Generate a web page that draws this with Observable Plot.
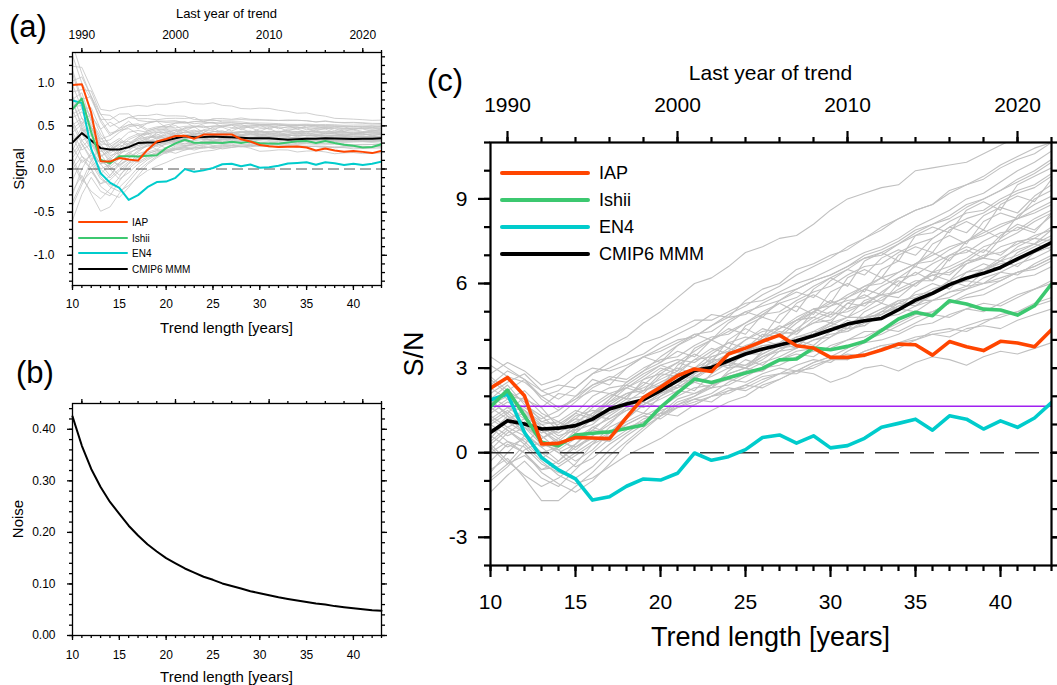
<!DOCTYPE html>
<html><head><meta charset="utf-8">
<script src="https://cdn.jsdelivr.net/npm/d3@7"></script>
<script src="https://cdn.jsdelivr.net/npm/@observablehq/plot@0.6"></script>
<style>
html,body{margin:0;padding:0;background:#fff;}
#wrap{position:relative;width:1057px;height:685px;overflow:hidden;font-family:"Liberation Sans",Arial,Helvetica,sans-serif;}
#wrap svg{position:absolute;left:0;top:0;}
</style></head><body><div id="wrap"></div>
<script>
// ---------------- DATA ----------------
const trendLength = [10,11,12,13,14,15,16,17,18,19,20,21,22,23,24,25,26,27,28,29,30,31,32,33,34,35,36,37,38,39,40,41,42,43];
const yearOffset = 1979; // last year of trend = 1979 + trend length
const yearTickLabels = [1990, 2000, 2010, 2020];

// Panel (b): noise vs trend length
const noise = [0.425,0.368,0.323,0.288,0.259,0.236,0.213,0.194,0.177,0.163,0.150,0.140,0.130,0.122,0.114,0.108,0.101,0.096,0.091,0.086,0.082,0.078,0.074,0.071,0.068,0.065,0.062,0.060,0.057,0.055,0.053,0.051,0.049,0.048];

// Panel (c): S/N of observations and multi-model mean (signal = S/N x noise in panel a)
const seriesNames  = ["IAP", "Ishii", "EN4", "CMIP6 MMM"];
const seriesColors = ["#ff4500", "#3cc870", "#00cccc", "#000000"];
const snIAP   = [2.29,2.67,2.02,0.31,0.33,0.54,0.52,0.50,1.25,1.96,2.32,2.73,2.97,2.88,3.50,3.71,3.95,4.17,3.79,3.71,3.38,3.38,3.46,3.64,3.85,3.83,3.46,3.94,3.76,3.62,3.95,3.89,3.76,4.36];
const snIshii = [1.63,2.22,1.31,0.37,0.25,0.63,0.69,0.74,0.86,0.98,1.61,2.12,2.61,2.49,2.66,2.83,2.99,3.29,3.32,3.71,3.65,3.77,3.94,4.33,4.74,4.98,4.86,5.39,5.27,5.09,5.06,4.88,5.21,5.98];
const snEN4   = [1.87,2.08,0.72,-0.17,-0.61,-0.93,-1.68,-1.56,-1.19,-0.93,-0.97,-0.73,-0.01,-0.27,-0.14,0.11,0.54,0.63,0.34,0.60,0.17,0.25,0.51,0.90,1.04,1.19,0.80,1.31,1.19,0.84,1.13,0.90,1.23,1.78];
const snMMM   = [0.72,1.13,1.02,0.84,0.87,0.96,1.19,1.55,1.73,1.88,2.20,2.55,2.92,3.02,3.26,3.50,3.68,3.82,3.97,4.15,4.35,4.56,4.68,4.76,5.07,5.41,5.65,5.96,6.19,6.36,6.57,6.87,7.16,7.45];
const snThreshold = 1.645;

// Individual CMIP6 models (S/N)
const cmip6ModelsSN = [
 [2.8,3.2,2.9,2.4,2.6,3.0,3.4,3.8,4.1,4.6,5.0,5.5,6.0,6.2,6.6,7.1,7.3,7.6,7.7,8.1,8.6,9.0,9.2,9.4,9.5,10.0,10.1,10.2,10.3,10.6,10.9,11.2,11.5,11.8],
 [3.4,3.0,2.6,2.2,2.4,2.3,2.8,3.0,3.3,3.5,3.9,4.2,4.5,4.9,4.8,5.4,5.8,6.0,6.5,6.7,7.0,7.2,7.6,8.0,8.3,8.6,8.8,9.3,9.5,9.8,10.2,10.5,10.8,11.0],
 [1.0,0.6,0.9,0.3,0.1,0.5,0.8,0.7,1.1,1.4,1.3,1.7,1.9,1.8,2.2,2.4,2.3,2.6,2.9,2.8,2.5,2.7,3.0,3.1,2.9,3.2,3.4,3.3,3.1,3.4,3.6,3.5,3.7,3.9],
 [-1.4,-0.8,-0.3,-0.9,-1.2,-0.6,0.0,0.5,1.0,1.3,1.6,2.0,2.3,2.4,2.8,3.0,2.9,3.3,3.5,3.4,3.8,4.0,4.1,4.4,4.3,4.6,4.9,4.8,5.1,5.3,5.2,5.5,5.8,6.0],
 [0.5,1.2,1.5,0.8,0.4,0.2,0.6,1.1,1.5,1.8,2.3,2.1,2.8,3.2,3.0,3.6,4.0,3.8,4.4,4.8,4.6,5.3,5.6,5.3,6.0,6.4,6.1,6.9,7.2,6.9,7.6,8.0,7.8,8.5],
 [1.2,1.6,1.5,1.1,1.0,1.4,2.0,2.3,2.4,2.8,3.1,3.3,3.2,3.6,3.9,4.1,4.0,4.4,4.7,4.8,5.2,5.4,5.5,5.9,6.2,6.3,6.7,7.0,7.1,7.5,7.8,7.9,8.3,8.6],
 [1.5,1.9,2.2,1.6,0.9,0.7,1.2,1.6,2.0,2.5,2.3,3.1,3.5,3.2,4.0,4.4,4.1,4.9,5.2,4.9,5.7,6.0,5.7,6.5,6.8,6.6,7.4,7.7,7.4,8.2,8.5,8.3,9.0,9.3],
 [0.0,0.4,0.2,-0.4,-0.7,-0.9,-0.5,0.1,0.6,1.0,1.4,1.9,2.1,2.3,2.7,2.9,3.2,3.4,3.7,4.0,4.1,4.5,4.8,4.9,5.3,5.6,5.7,6.1,6.4,6.5,6.9,7.2,7.4,7.7],
 [1.8,1.4,0.9,0.5,0.8,1.3,1.5,1.4,1.8,2.2,2.4,2.3,2.7,3.0,3.1,3.0,3.4,3.7,3.8,4.2,4.4,4.3,4.7,5.0,5.1,5.0,5.4,5.7,5.8,6.2,6.4,6.3,6.7,7.0],
 [2.6,2.1,1.5,1.0,1.1,0.8,1.0,1.5,1.9,2.0,2.4,2.8,2.6,3.3,3.7,3.5,4.1,4.5,4.3,5.0,5.4,5.1,5.8,6.2,5.9,6.7,7.1,6.8,7.5,7.9,7.6,8.4,8.8,9.1],
 [0.8,1.1,0.7,0.2,0.4,0.9,1.3,1.2,1.6,1.9,2.2,2.5,2.6,3.0,3.2,3.1,3.5,3.8,3.9,4.2,4.5,4.4,4.8,5.1,5.3,5.2,5.6,5.9,6.1,6.0,6.4,6.7,6.9,7.2],
 [-0.6,-0.2,-0.9,-1.7,-1.7,-1.2,-0.7,-0.1,0.4,0.9,1.3,1.6,1.9,2.1,2.5,2.8,2.9,3.3,3.6,3.7,4.1,4.4,4.5,4.9,5.2,5.3,5.7,6.0,6.2,6.5,6.8,7.0,7.3,7.6],
 [3.1,2.7,2.5,2.0,1.6,1.9,2.4,2.6,2.5,2.9,3.2,3.6,3.4,4.0,4.4,4.2,4.9,5.3,5.0,5.8,6.2,5.9,6.8,7.1,6.8,7.7,8.0,7.8,8.6,8.9,8.6,9.5,9.8,10.1],
 [1.3,0.9,1.2,1.0,0.6,0.8,1.3,1.8,2.1,2.3,2.6,2.9,3.3,3.4,3.6,4.0,4.3,4.4,4.8,5.1,5.2,5.6,5.9,6.0,6.4,6.7,6.8,7.2,7.5,7.7,8.0,8.3,8.5,8.8],
 [2.0,1.6,1.2,0.7,0.9,1.2,1.1,1.4,1.7,1.6,1.9,2.2,2.1,2.4,2.6,2.5,2.8,3.0,2.9,3.2,3.4,3.3,3.6,3.8,3.7,4.0,4.2,4.1,4.4,4.5,4.4,4.7,4.9,5.1],
 [0.3,-0.3,-0.8,-1.2,-0.9,-0.4,0.3,0.9,1.2,1.7,2.1,2.3,2.7,3.0,3.1,3.5,3.8,3.9,4.3,4.6,4.7,5.1,5.3,5.4,5.8,6.1,6.1,6.5,6.8,6.9,7.3,7.5,7.6,8.0],
 [1.7,2.2,1.8,1.1,1.3,1.8,2.3,2.6,3.0,3.4,3.7,4.0,4.1,4.5,4.8,4.9,5.3,5.6,5.8,6.1,6.3,6.6,6.9,7.0,7.4,7.7,7.8,8.2,8.5,8.6,9.0,9.3,9.5,9.9],
 [-0.9,-0.4,-0.1,-0.6,-0.3,0.2,0.5,0.4,0.8,1.2,1.4,1.3,1.7,2.0,2.1,2.4,2.7,2.8,3.1,3.3,3.2,3.6,3.9,4.0,4.2,4.5,4.6,4.9,5.1,5.0,5.3,5.6,5.8,6.1],
 [2.4,2.9,2.6,2.0,2.2,2.7,3.0,2.9,3.1,3.4,3.6,3.9,4.2,4.3,4.7,5.0,5.2,5.4,5.8,6.1,6.3,6.6,7.0,7.2,7.5,7.9,8.1,8.4,8.8,9.0,9.3,9.6,9.9,10.3],
 [1.1,1.5,1.0,0.4,0.0,0.3,0.8,1.3,1.7,1.9,2.2,2.6,2.9,3.0,3.3,3.5,3.5,3.8,4.1,4.2,4.5,4.8,4.8,5.1,5.4,5.5,5.8,6.0,6.1,6.5,6.7,6.8,7.1,7.4],
 [0.6,0.2,0.5,0.0,-0.4,0.0,0.4,0.7,1.0,1.3,1.2,1.6,1.8,2.0,2.3,2.2,2.5,2.8,2.9,3.0,3.3,3.5,3.4,3.7,3.9,4.0,4.3,4.4,4.3,4.6,4.9,5.0,5.3,5.5],
 [1.9,1.3,0.7,0.2,0.5,1.0,1.6,2.0,2.3,2.7,3.1,2.9,3.7,4.0,3.7,4.5,4.8,4.6,5.3,5.6,5.3,6.2,6.5,6.2,7.0,7.3,7.1,7.9,8.2,7.9,8.8,9.1,8.9,9.7],
 [0.1,0.7,1.1,0.6,0.1,-0.3,0.1,0.7,1.2,1.7,2.1,2.4,2.8,3.1,3.5,3.8,4.0,4.4,4.7,5.0,5.3,5.5,5.9,6.2,6.4,6.7,7.0,7.3,7.5,7.8,8.1,8.3,8.6,8.9],
 [1.7,2.0,1.9,1.6,2.1,2.0,2.4,2.7,2.6,3.0,3.3,3.4,3.8,4.1,4.2,4.6,4.9,5.0,5.4,5.7,5.9,6.3,6.6,6.7,7.1,7.4,7.6,8.0,8.3,8.5,8.9,9.2,9.4,9.8],
 [-0.3,0.3,0.0,-0.7,-1.1,-1.4,-1.0,-0.4,0.3,0.8,1.3,1.8,2.0,2.4,2.8,3.0,3.3,3.7,3.9,4.2,4.6,4.8,5.1,5.5,5.7,6.0,6.4,6.6,6.9,7.3,7.5,7.8,8.2,8.5],
 [1.4,1.8,1.5,0.9,0.7,1.1,1.4,1.7,2.1,2.2,2.5,2.8,2.9,3.2,3.5,3.6,3.9,4.2,4.3,4.6,4.9,5.0,5.3,5.6,5.7,6.0,6.3,6.4,6.7,7.0,7.1,7.4,7.7,7.9],
 [2.3,1.9,1.6,1.2,1.5,1.9,2.2,2.1,2.3,2.6,2.8,2.7,3.0,3.3,3.3,3.6,3.8,3.8,4.1,4.3,4.3,4.6,4.8,4.9,5.2,5.4,5.4,5.7,5.9,6.0,6.2,6.4,6.5,6.8],
 [0.4,0.9,0.6,0.0,0.2,0.7,1.2,1.6,2.0,2.4,2.9,3.2,3.6,4.0,4.3,4.6,5.0,5.3,5.5,5.9,6.2,6.5,6.9,7.1,7.4,7.8,8.1,8.3,8.7,9.0,9.3,9.7,10.0,10.4],
 [1.6,1.2,1.4,0.8,0.3,0.5,0.9,1.2,1.5,1.7,2.0,2.3,2.5,2.7,3.0,3.1,3.4,3.6,3.7,4.0,4.2,4.3,4.6,4.8,4.9,5.2,5.4,5.5,5.8,6.0,6.1,6.4,6.6,6.9],
 [-1.0,-0.5,0.1,0.4,0.0,-0.5,-0.2,0.3,0.7,1.1,1.5,1.7,2.0,2.3,2.4,2.7,3.0,3.1,3.4,3.6,3.7,4.0,4.3,4.3,4.6,4.9,5.0,5.3,5.5,5.6,5.9,6.2,6.3,6.6],
 [2.1,2.5,2.8,2.2,1.9,2.3,2.8,3.2,3.5,3.9,4.1,4.4,4.7,4.7,5.0,5.3,5.4,5.7,6.0,6.2,6.5,6.8,7.1,7.3,7.6,8.0,8.3,8.6,9.0,9.2,9.6,10.0,10.3,10.7],
 [0.9,0.4,0.0,-0.6,-0.5,-0.1,0.3,0.6,0.9,1.1,1.4,1.6,1.7,2.0,2.2,2.3,2.6,2.8,2.8,3.1,3.3,3.3,3.6,3.8,3.9,4.1,4.2,4.3,4.5,4.7,4.8,5.0,5.2,5.4],
 [1.2,0.8,0.3,-0.3,-0.8,-1.1,-0.9,-0.5,-0.1,0.2,0.5,0.9,1.2,1.5,1.8,2.0,2.4,2.6,2.9,3.2,3.4,3.7,4.0,4.2,4.5,4.8,5.0,5.3,5.6,5.8,6.1,6.4,6.6,6.9],
 [0.7,1.3,1.0,0.5,0.9,1.4,1.2,1.8,2.3,2.1,2.7,3.0,2.8,3.4,3.6,3.5,4.1,4.3,4.2,4.7,5.0,4.8,5.4,5.6,5.5,6.0,6.3,6.1,6.7,6.9,6.8,7.3,7.6,7.5],
 [1.9,2.4,1.7,1.3,0.8,1.2,1.7,2.1,1.9,2.6,3.0,2.8,3.3,3.7,3.5,4.0,4.4,4.2,4.7,5.1,4.9,5.5,5.8,5.6,6.2,6.6,6.4,7.0,7.3,7.1,7.7,8.1,7.9,8.4],
 [0.2,-0.4,0.3,0.9,0.5,0.1,0.6,1.0,1.6,1.4,2.0,2.4,2.2,2.8,3.2,3.0,3.6,3.9,3.7,4.3,4.6,4.4,5.0,5.3,5.1,5.7,6.0,5.8,6.4,6.7,6.5,7.1,7.4,7.2],
 [2.7,2.2,2.6,1.9,1.5,2.0,2.6,2.4,3.0,3.4,3.2,3.8,4.2,4.0,4.6,5.0,4.8,5.4,5.7,5.5,6.1,6.5,6.3,6.9,7.2,7.0,7.6,8.0,7.8,8.4,8.7,8.5,9.1,9.5],
 [-0.7,0.0,0.6,0.2,-0.3,0.3,0.9,0.7,1.3,1.8,1.6,2.2,2.5,2.3,2.9,3.3,3.1,3.6,4.0,3.8,4.3,4.7,4.5,5.0,5.4,5.2,5.7,6.1,5.9,6.4,6.8,6.6,7.1,7.3],
 [1.0,1.4,2.0,1.4,1.1,1.5,1.3,1.9,2.4,2.2,2.8,3.2,3.0,3.5,3.9,3.7,4.2,4.1,4.6,5.0,4.8,5.3,5.2,5.7,6.1,5.9,6.4,6.3,6.8,7.2,7.0,7.5,7.4,7.9],
 [0.3,0.8,0.4,-0.2,0.2,0.8,1.4,1.9,2.5,2.9,3.4,3.8,4.1,4.5,4.9,5.2,5.6,5.9,6.3,6.6,6.9,7.3,7.6,7.9,8.3,8.6,8.8,9.2,9.5,9.7,10.1,10.4,10.6,11.0]
];

// ---------------- TABLES ----------------
const obsSN = [snIAP, snIshii, snEN4, snMMM];
const rowsOf = (vals, name) => vals.map((v, i) => ({L: trendLength[i], sn: v, signal: v * noise[i], name}));
const grayRows = cmip6ModelsSN.flatMap((vals, m) => rowsOf(vals, "m" + m));
const obsRows = seriesNames.map((n, k) => rowsOf(obsSN[k], n));
const noiseRows = trendLength.map((L, i) => ({L, noise: noise[i]}));

// ---------------- LAYOUT ----------------
const W = 1057, H = 685;
const FONT = '"Liberation Sans", Arial, Helvetica, sans-serif';
const wrap = document.getElementById("wrap");
const blank = () => "";
const topMajor = yearTickLabels.map(y => y - yearOffset);
const topMinor = d3.range(1990, 2023, 2).map(y => y - yearOffset);
const xMajor = [10, 15, 20, 25, 30, 35, 40];
const xMinor = d3.range(10, 44);

function axes(o) {
  const common = {strokeWidth: o.sw, label: null, fontSize: o.fs};
  return [
    Plot.axisX({...common, anchor: "bottom", ticks: xMajor, tickSize: o.maj, tickPadding: o.xPad, tickFormat: d => String(d)}),
    Plot.axisX({...common, anchor: "bottom", ticks: xMinor, tickSize: o.min, tickFormat: blank}),
    Plot.axisX({...common, anchor: "top", ticks: topMajor, tickSize: o.maj, tickPadding: o.topPad, tickFormat: o.showTop ? (d => String(d + yearOffset)) : blank}),
    Plot.axisX({...common, anchor: "top", ticks: topMinor, tickSize: o.min, tickFormat: blank}),
    Plot.axisY({...common, anchor: "left", ticks: o.yMajor, tickSize: o.maj, tickPadding: o.yPad, tickFormat: o.yFmt}),
    Plot.axisY({...common, anchor: "left", ticks: o.yMinor, tickSize: o.min, tickFormat: blank}),
    Plot.axisY({...common, anchor: "right", ticks: o.yMajor, tickSize: o.maj, tickFormat: blank}),
    Plot.axisY({...common, anchor: "right", ticks: o.yMinor, tickSize: o.min, tickFormat: blank})
  ];
}

function obsLines(yKey, sw) {
  // draw order: MMM, EN4, Ishii, IAP
  return [3, 2, 1, 0].map(k => Plot.line(obsRows[k], {x: "L", y: yKey, stroke: seriesColors[k], strokeWidth: sw, strokeLinejoin: "round", clip: true}));
}

// Panel (a)
const plotA = Plot.plot({
  width: W, height: H, marginLeft: 72, marginRight: W - 381, marginTop: 52, marginBottom: H - 285,
  style: {background: "transparent", fontFamily: FONT, color: "black", overflow: "visible"},
  x: {domain: [10, 43]}, y: {domain: [-1.35, 1.35]},
  marks: [
    Plot.line(grayRows, {x: "L", y: "signal", z: "name", stroke: "#c3c3c3", strokeWidth: 0.8, clip: true}),
    Plot.ruleY([0], {stroke: "#555", strokeWidth: 1, strokeDasharray: "11,5"}),
    ...obsLines("signal", 2),
    Plot.frame({stroke: "black", strokeWidth: 1.3}),
    ...axes({sw: 1.3, fs: 12, maj: 5, min: 3, xPad: 9, topPad: 9, yPad: 13, showTop: true,
      yMajor: [-1, -0.5, 0, 0.5, 1], yMinor: d3.range(-13, 14).map(d => d / 10), yFmt: d => d.toFixed(1)})
  ]
});

// Panel (b)
const plotB = Plot.plot({
  width: W, height: H, marginLeft: 72, marginRight: W - 381, marginTop: 403, marginBottom: H - 635,
  style: {background: "transparent", fontFamily: FONT, color: "black", overflow: "visible"},
  x: {domain: [10, 43]}, y: {domain: [0, 0.45]},
  marks: [
    Plot.line(noiseRows, {x: "L", y: "noise", stroke: "black", strokeWidth: 2}),
    Plot.frame({stroke: "black", strokeWidth: 1.3}),
    ...axes({sw: 1.3, fs: 12, maj: 5, min: 3, xPad: 10, topPad: 8, yPad: 12, showTop: false,
      yMajor: [0, 0.1, 0.2, 0.3, 0.4], yMinor: d3.range(0, 23).map(d => d / 50), yFmt: d => d.toFixed(2)})
  ]
});

// Panel (c)
const plotC = Plot.plot({
  width: W, height: H, marginLeft: 490, marginRight: W - 1051, marginTop: 142, marginBottom: H - 565,
  style: {background: "transparent", fontFamily: FONT, color: "black", overflow: "visible"},
  x: {domain: [10, 43]}, y: {domain: [-4, 11]},
  marks: [
    Plot.line(grayRows, {x: "L", y: "sn", z: "name", stroke: "#c0c0c0", strokeWidth: 1.1, clip: true}),
    Plot.ruleY([snThreshold], {stroke: "#a020f0", strokeWidth: 1.6}),
    Plot.ruleY([0], {stroke: "#333", strokeWidth: 1.6, strokeDasharray: "24,11"}),
    ...obsLines("sn", 3.6),
    Plot.frame({stroke: "black", strokeWidth: 2.2}),
    ...axes({sw: 2.2, fs: 21, maj: 12, min: 6, xPad: 17, topPad: 19, yPad: 11, showTop: true,
      yMajor: [-3, 0, 3, 6, 9], yMinor: d3.range(-4, 12), yFmt: d => String(d)})
  ]
});

wrap.append(plotA, plotB, plotC);

// ---------------- TEXT + LEGENDS overlay ----------------
const svg = d3.create("svg").attr("width", W).attr("height", H)
  .style("font-family", FONT).style("pointer-events", "none");
function label(t, x, y, size, opts = {}) {
  const e = svg.append("text").text(t).attr("x", x).attr("y", y)
    .attr("font-size", size).attr("fill", "black")
    .attr("text-anchor", opts.anchor || "middle")
    .attr("dominant-baseline", opts.baseline || "central");
  if (opts.rotate) e.attr("transform", `rotate(${opts.rotate},${x},${y})`);
}
label("(a)", 9, 37, 31, {anchor: "start", baseline: "alphabetic"});
label("(b)", 16, 383, 31, {anchor: "start", baseline: "alphabetic"});
label("(c)", 427, 91, 31, {anchor: "start", baseline: "alphabetic"});
label("Last year of trend", 226.5, 13, 13);
label("Trend length [years]", 226.5, 327, 15);
label("Signal", 18, 169, 15, {rotate: -90});
label("Trend length [years]", 226.5, 676, 15);
label("Noise", 17, 519, 15, {rotate: -90});
label("Last year of trend", 770.5, 72, 21);
label("Trend length [years]", 770.5, 637, 27);
label("S/N", 414, 354, 27, {rotate: -90});

function legend(x0, x1, tx, ys, sw, size) {
  seriesNames.forEach((n, k) => {
    svg.append("line").attr("x1", x0).attr("x2", x1).attr("y1", ys[k]).attr("y2", ys[k])
      .attr("stroke", seriesColors[k]).attr("stroke-width", sw).attr("stroke-linecap", "round");
    label(n, tx, ys[k], size, {anchor: "start"});
  });
}
legend(502, 588, 599, [173, 200, 227, 254], 4, 18);
legend(79, 127, 132, [222, 238, 253, 269], 2, 10);
wrap.append(svg.node());
</script></body></html>
